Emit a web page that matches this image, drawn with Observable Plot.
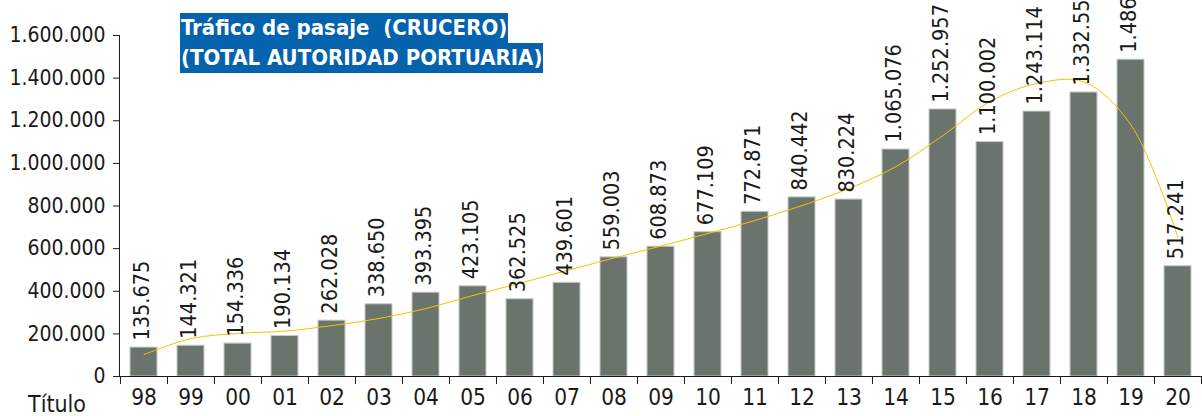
<!DOCTYPE html>
<html><head><meta charset="utf-8">
<script src="https://cdn.jsdelivr.net/npm/d3@7"></script>
<script src="https://cdn.jsdelivr.net/npm/@observablehq/plot@0.6"></script>
<style>
body{margin:0;background:#fff;}
#wrap{position:relative;width:1202px;height:416px;overflow:hidden;font-family:"Liberation Sans Narrow","Arial Narrow","DejaVu Sans Condensed",sans-serif;}
#title{position:absolute;left:180px;top:13px;font-weight:bold;font-size:22px;color:#fff;line-height:30px;}
#title span{display:block;width:fit-content;background:#0562ac;padding:0 1px;white-space:pre;}
#xt{position:absolute;left:28px;top:391px;font-size:23px;color:#1a1a1a;}
</style></head><body><div id="wrap"><div id="chart"></div><div id="title"></div><div id="xt"></div></div>
<script>
const years = ["98","99","00","01","02","03","04","05","06","07","08","09","10","11","12","13","14","15","16","17","18","19","20"];
const passengers = [135675,144321,154336,190134,262028,338650,393395,423105,362525,439601,559003,608873,677109,772871,840442,830224,1065076,1252957,1100002,1243114,1332556,1486400,517241];
const trend = [103000,178000,202000,213000,239000,272000,319000,380000,438000,497000,556000,612000,671000,732000,802000,882000,985000,1131000,1290000,1375000,1382000,1180000,652000];
const yTicks = [0,200000,400000,600000,800000,1000000,1200000,1400000,1600000];
const title1 = "Tráfico de pasaje  (CRUCERO)";
const title2 = "(TOTAL AUTORIDAD PORTUARIA)";
const xTitle = "Título";

const fmt = d3.formatLocale({decimal:",",thousands:".",grouping:[3],currency:["",""]}).format(",d");
const data = years.map((y,i)=>({year:y, value:passengers[i], trend:trend[i]}));
const W=1202,H=416,mL=119,mR=1,mT=35,mB=40;
const step=(W-mL-mR)/years.length;
const ink="#1a1a1a";
const chart = Plot.plot({
  width:W,height:H,marginLeft:mL,marginRight:mR,marginTop:mT,marginBottom:mB,
  style:{fontFamily:'"Liberation Sans Narrow","Arial Narrow","DejaVu Sans Condensed",sans-serif',fontSize:"22px",color:ink,background:"#fff",overflow:"hidden"},
  x:{domain:years,paddingInner:0.43,paddingOuter:0.215,label:null},
  y:{domain:[0,1600000],label:null},
  marks:[
    Plot.barY(data,{x:"year",y:"value",fill:"#6b746c",stroke:"#c6c9c6",strokeWidth:1}),
    Plot.line(data,{x:"year",y:"trend",curve:"catmull-rom",stroke:"#f4c300",strokeWidth:1}),
    Plot.text(data,{x:"year",y:"value",text:d=>fmt(d.value),rotate:-90,textAnchor:"start",dy:-7,dx:-2,fontSize:21.5,fill:ink}),
    Plot.ruleY([0],{stroke:ink}),
    Plot.frame({anchor:"left",stroke:ink}),
    Plot.axisY({ticks:yTicks,tickFormat:fmt,tickSize:6,tickPadding:8,fontSize:21,stroke:ink,fill:ink,label:null}),
    Plot.axisX({tickSize:0,tickPadding:13,fontSize:22.5,fill:ink,label:null}),
    Plot.axisX({tickSize:8,tickFormat:()=>"",dx:-step/2,stroke:ink,label:null}),
    Plot.axisX({ticks:[years[years.length-1]],tickSize:8,tickFormat:()=>"",dx:step/2,stroke:ink,label:null})
  ]
});
document.getElementById("chart").appendChild(chart);
document.getElementById("title").innerHTML = `<span>${title1}</span><span>${title2}</span>`;
document.getElementById("xt").textContent = xTitle;
</script></body></html>
